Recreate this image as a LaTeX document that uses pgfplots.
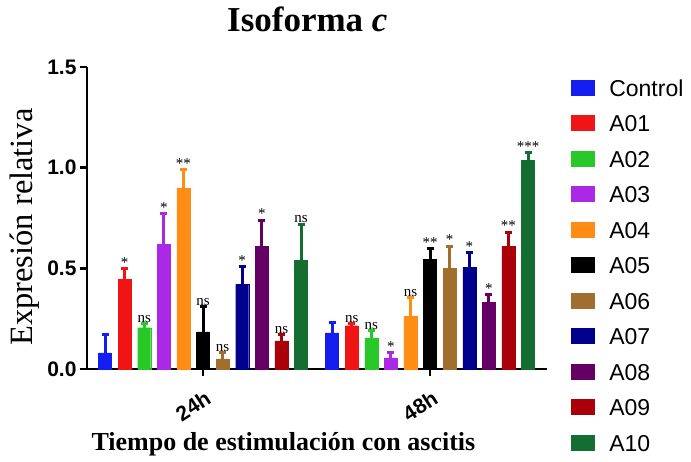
\documentclass[border=0pt]{standalone}
\usepackage{pgfplots}
\pgfplotsset{compat=1.18}
\usepackage{fontspec}
\setmainfont{Liberation Serif}
\newfontfamily\arial{Liberation Sans}
\definecolor{cC}{RGB}{20,30,240}
\definecolor{c01}{RGB}{240,20,20}
\definecolor{c02}{RGB}{40,200,40}
\definecolor{c03}{RGB}{170,40,230}
\definecolor{c04}{RGB}{255,140,20}
\definecolor{c05}{RGB}{0,0,0}
\definecolor{c06}{RGB}{160,110,45}
\definecolor{c07}{RGB}{0,0,140}
\definecolor{c08}{RGB}{100,0,100}
\definecolor{c09}{RGB}{170,0,10}
\definecolor{c10}{RGB}{20,110,50}
\pgfplotsset{
 mybar/.style={fill=#1, draw=#1,
   error bars/y dir=plus, error bars/y explicit,
   error bars/error bar style={line width=3pt, #1},
   error bars/error mark options={rotate=90, mark size=3.5pt, line width=3pt, #1}},
 lab/.style={nodes near coords, point meta=explicit symbolic,
   visualization depends on={\thisrow{e}\as\myerr},
   every node near coord/.append style={shift={(axis direction cs:0,\myerr)},
     font=\fontsize{15}{15}\selectfont, inner sep=1pt, anchor=south, text=black}},
}
\begin{document}
\begin{tikzpicture}
\useasboundingbox (-87pt,-92pt) rectangle (604pt,369pt);
\begin{axis}[
 at={(0,0)}, anchor=south west,
 scale only axis, width=460pt, height=302pt,
 xmin=-0.511, xmax=1.515, ymin=0, ymax=1.5,
 clip=false,
 ybar=6.6pt, bar width=13pt,
 axis x line*=bottom, axis y line*=left,
 axis line style={line width=2.5pt},
 every tick/.style={line width=2.5pt, black},
 tick align=outside, major tick length=7pt,
 xtick={0,1}, xticklabels={24h,48h},
 ytick={0,0.5,1,1.5},
 yticklabel style={/pgf/number format/.cd, fixed, fixed zerofill, precision=1},
 /pgf/number format/assume math mode=true,
 tick label style={font=\arial\bfseries\fontsize{21}{21}\selectfont},
 xticklabel style={anchor=center, xshift=-10pt, yshift=-30pt, rotate=33, inner sep=0pt},
 title={\textbf{Isoforma \textit{c}}},
 title style={at={(axis description cs:0.479,1.099)}, anchor=base, font=\fontsize{35}{35}\selectfont},
 xlabel={\textbf{Tiempo de estimulación con ascitis}},
 xlabel style={at={(axis description cs:0.427,-0.2715)}, anchor=base, font=\fontsize{26}{26}\selectfont},
 ylabel={Expresión relativa},
 ylabel style={at={(axis description cs:-0.1174,0.47)}, anchor=base, font=\fontsize{32.5}{32.5}\selectfont},
 legend style={at={(1.045,0.967)}, anchor=north west, draw=none, fill=none,
   font=\arial\fontsize{23}{23}\selectfont, row sep=18.5pt, column sep=15pt,
   nodes={inner sep=0pt, text height=17pt, text depth=0pt},
   cells={anchor=west}},
 legend image code/.code={\fill[#1] (0pt,-7.5pt) rectangle (23pt,7.5pt);},
]
\addplot+[mybar=cC] table[x=x,y=y,y error=e] {
x y e
0 0.08 0.09
1 0.18 0.05
};
\addplot+[mybar=c01, lab] table[x=x,y=y,y error=e,meta=l] {
x y e l
0 0.445 0.055 *
1 0.215 0.01 ns
};
\addplot+[mybar=c02, lab] table[x=x,y=y,y error=e,meta=l] {
x y e l
0 0.205 0.02 ns
1 0.155 0.035 ns
};
\addplot+[mybar=c03, lab] table[x=x,y=y,y error=e,meta=l] {
x y e l
0 0.62 0.15 *
1 0.055 0.025 *
};
\addplot+[mybar=c04, lab] table[x=x,y=y,y error=e,meta=l] {
x y e l
0 0.90 0.09 **
1 0.26 0.095 ns
};
\addplot+[mybar=c05, lab] table[x=x,y=y,y error=e,meta=l] {
x y e l
0 0.185 0.125 ns
1 0.545 0.055 **
};
\addplot+[mybar=c06, lab] table[x=x,y=y,y error=e,meta=l] {
x y e l
0 0.05 0.03 ns
1 0.50 0.11 *
};
\addplot+[mybar=c07, lab] table[x=x,y=y,y error=e,meta=l] {
x y e l
0 0.42 0.09 *
1 0.505 0.075 *
};
\addplot+[mybar=c08, lab] table[x=x,y=y,y error=e,meta=l] {
x y e l
0 0.61 0.13 *
1 0.33 0.04 *
};
\addplot+[mybar=c09, lab] table[x=x,y=y,y error=e,meta=l] {
x y e l
0 0.14 0.03 ns
1 0.61 0.07 **
};
\addplot+[mybar=c10, lab] table[x=x,y=y,y error=e,meta=l] {
x y e l
0 0.54 0.18 ns
1 1.035 0.04 ***
};
\legend{Control,A01,A02,A03,A04,A05,A06,A07,A08,A09,A10}
\end{axis}
\end{tikzpicture}
\end{document}
